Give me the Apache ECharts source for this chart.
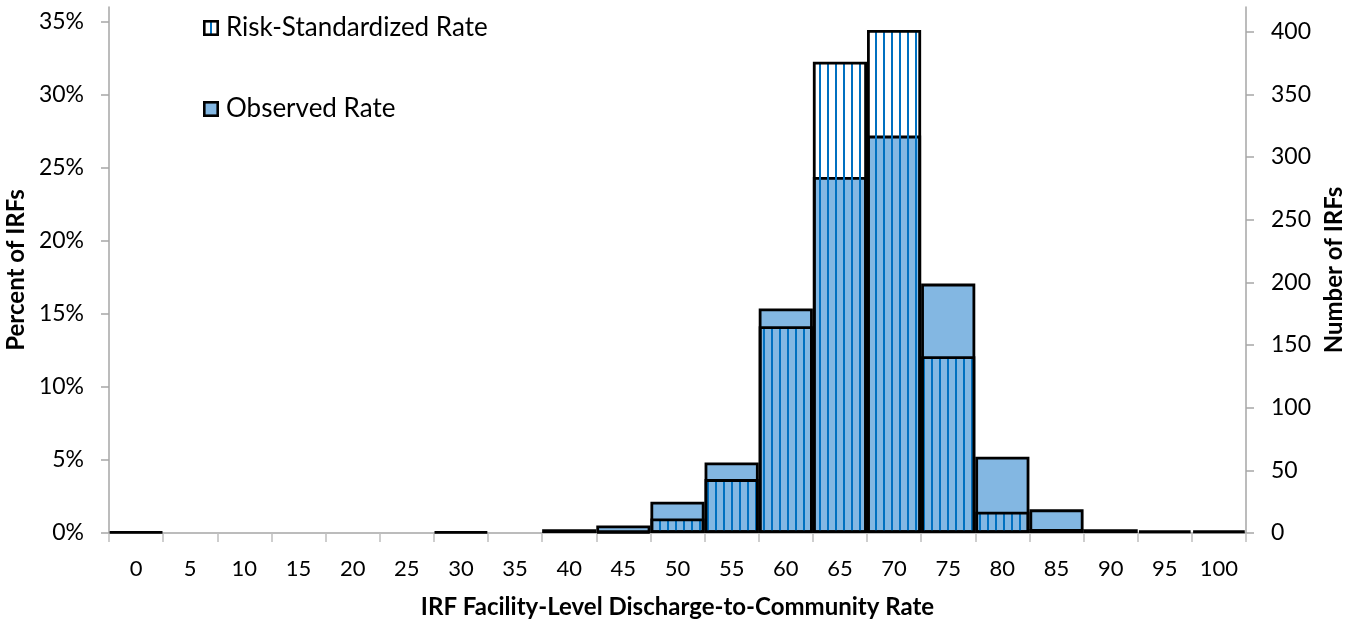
<!DOCTYPE html>
<html>
<head>
<meta charset="utf-8">
<script src="https://cdn.jsdelivr.net/npm/echarts@6/dist/echarts.min.js"></script>
<style>
html,body{margin:0;padding:0;background:#fff;}
#chart{width:1348px;height:623px;}
</style>
</head>
<body>
<div id="chart"></div>
<script>
// ---- data (percent of IRFs per 5-point bin; null = empty bin) ----
var categories = ['0','5','10','15','20','25','30','35','40','45','50','55','60','65','70','75','80','85','90','95','100'];
var observedRate = [0.09,null,null,null,null,null,0.09,null,0.26,0.52,2.14,4.83,15.36,24.36,27.2,17.07,5.22,1.62,0.26,0.17,0.17];
var riskStdRate  = [null,null,null,null,null,null,null,null,null,0.09,1.0,3.69,14.15,32.26,34.43,12.1,1.46,0.27,null,null,null];
var percentTicks = [0,5,10,15,20,25,30,35];
var countTicks = [0,50,100,150,200,250,300,350,400];
var totalIRFs = 1166;

var FONT = 'Lato';
var leftMax = 36;
var rightMax = leftMax * totalIRFs / 100;

// vertical line pattern for risk-standardized bars (transparent background)
var pc = document.createElement('canvas');
pc.width = 8; pc.height = 8;
var pctx = pc.getContext('2d');
pctx.fillStyle = '#0070C0';
pctx.fillRect(3, 0, 2, 8);

function legendIcon(fill, line) {
  var c = document.createElement('canvas');
  c.width = 16; c.height = 16;
  var x = c.getContext('2d');
  x.fillStyle = fill; x.fillRect(0, 0, 16, 16);
  if (line) { x.fillStyle = '#0070C0'; x.fillRect(7, 2, 2, 12); }
  x.strokeStyle = '#000'; x.lineWidth = 2.6; x.strokeRect(1.3, 1.3, 13.4, 13.4);
  return 'image://' + c.toDataURL();
}

var chart = echarts.init(document.getElementById('chart'), null, {renderer: 'canvas'});
chart.setOption({
  animation: false,
  backgroundColor: '#fff',
  textStyle: {fontFamily: FONT},
  grid: {left: 109, right: 102, top: 7, bottom: 90, containLabel: false, outerBoundsMode: 'none'},
  legend: {
    orient: 'vertical',
    left: 203, top: 15,
    padding: 0,
    itemWidth: 16, itemHeight: 16,
    itemGap: 55,
    textStyle: {fontFamily: FONT, fontSize: 26, color: '#000', lineHeight: 26, padding: [0,0,0,2]},
    data: [
      {name: 'Risk-Standardized Rate', icon: legendIcon('#fff', true)},
      {name: 'Observed Rate', icon: legendIcon('#83B7E2', false)}
    ]
  },
  xAxis: {
    type: 'category',
    data: categories,
    boundaryGap: true,
    name: 'IRF Facility-Level Discharge-to-Community Rate',
    nameLocation: 'middle',
    nameGap: 62,
    nameTextStyle: {fontFamily: FONT, fontSize: 24, fontWeight: 'bold', color: '#000'},
    axisLine: {lineStyle: {color: '#A6A6A6', width: 1.5}},
    axisTick: {show: true, length: 9, lineStyle: {color: '#BFBFBF', width: 1.5}},
    axisLabel: {fontFamily: FONT, fontSize: 22, color: '#000', margin: 25, interval: 0},
    splitLine: {show: false}
  },
  yAxis: [
    {
      type: 'value',
      min: 0, max: leftMax,
      name: 'Percent of IRFs',
      nameLocation: 'middle',
      nameRotate: 90,
      nameGap: 77,
      nameTextStyle: {fontFamily: FONT, fontSize: 24, fontWeight: 'bold', color: '#000'},
      axisLine: {show: true, lineStyle: {color: '#A6A6A6', width: 1.5}},
      axisTick: {show: true, length: 8, customValues: percentTicks, lineStyle: {color: '#A6A6A6', width: 1.5}},
      axisLabel: {fontFamily: FONT, fontSize: 23, color: '#000', margin: 25, customValues: percentTicks,
        formatter: function (v) { return v + '%'; }},
      splitLine: {show: false}
    },
    {
      type: 'value',
      min: 0, max: rightMax,
      position: 'right',
      name: 'Number of IRFs',
      nameLocation: 'middle',
      nameRotate: 90,
      nameGap: 64,
      nameTextStyle: {fontFamily: FONT, fontSize: 24, fontWeight: 'bold', color: '#000'},
      axisLine: {show: true, lineStyle: {color: '#A6A6A6', width: 1.5}},
      axisTick: {show: true, length: 8, customValues: countTicks, lineStyle: {color: '#A6A6A6', width: 1.5}},
      axisLabel: {fontFamily: FONT, fontSize: 23, color: '#000', margin: 25, customValues: countTicks},
      splitLine: {show: false}
    }
  ],
  series: [
    {
      name: 'Observed Rate',
      type: 'bar',
      data: observedRate,
      barCategoryGap: '0%',
      barGap: '-100%',
      itemStyle: {color: '#83B7E2', borderColor: '#000', borderWidth: 2.8},
      z: 2
    },
    {
      name: 'Risk-Standardized Rate',
      type: 'bar',
      data: riskStdRate,
      barCategoryGap: '0%',
      barGap: '-100%',
      itemStyle: {color: {image: pc, repeat: 'repeat'}, borderColor: '#000', borderWidth: 2.8},
      z: 3
    }
  ]
});
</script>
</body>
</html>
